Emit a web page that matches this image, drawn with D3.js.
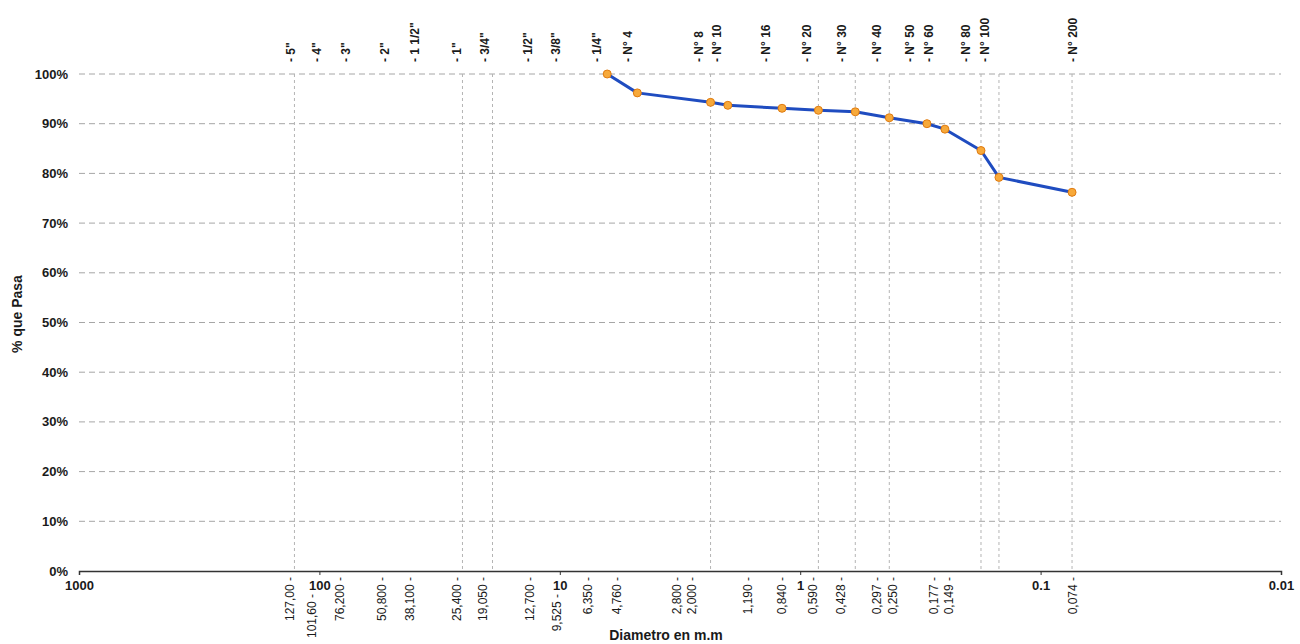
<!DOCTYPE html>
<html>
<head>
<meta charset="utf-8">
<script src="https://cdn.jsdelivr.net/npm/d3@7"></script>
<style>
    body { margin: 0; background: #fff; }
    svg { font-family: Arial, "Liberation Sans", sans-serif; }
</style>
</head>
<body>
<svg id="canvas"></svg>
<script>
// sieves shown along the top of the chart, and where their names sit (mm)
const sieveNames = ['5"', '4"', '3"', '2"', '1 1/2"', '1"', '3/4"', '1/2"', '3/8"', '1/4"',
        'N° 4', 'N° 8', 'N° 10', 'N° 16', 'N° 20', 'N° 30', 'N° 40', 'N° 50', 'N° 60', 'N° 80', 'N° 100', 'N° 200'],
    sieveLabelAt = [131, 102.3, 77.5, 53.4, 40.0, 26.8, 20.5, 13.6, 10.4, 7.0,
        5.2, 2.64, 2.22, 1.39, 0.937, 0.67, 0.48, 0.349, 0.291, 0.204, 0.170, 0.0733];

// opening labels under the axis and where they sit (mm)
const openingLabels = ['127,00', '101,60', '76,200', '50,800', '38,100', '25,400', '19,050', '12,700', '9,525', '6,350',
        '4,760', '2,800', '2,000', '1,190', '0,840', '0,590', '0,428', '0,297', '0,250', '0,177', '0,149', '0,074'],
    openingLabelAt = [133, 108, 82.6, 55.2, 42.2, 26.9, 20.9, 13.3, 10.3, 7.64,
        5.79, 3.26, 2.82, 1.65, 1.19, 0.89, 0.68, 0.478, 0.41, 0.279, 0.242, 0.0736];

// tested sieves and % passing
const testSizes = [6.35, 4.76, 2.36, 2.0, 1.19, 0.84, 0.59, 0.426, 0.297, 0.25, 0.177, 0.149, 0.074],
    percentPassing = [100, 96.2, 94.3, 93.7, 93.1, 92.7, 92.4, 91.2, 90.0, 88.9, 84.6, 79.2, 76.2];

// sieves that got a vertical grid line
const gridSizes = [127, 25.4, 19.05, 2.36, 0.84, 0.59, 0.426, 0.177, 0.149, 0.074];

const decadeTicks = [1000, 100, 10, 1, 0.1, 0.01],
    percentTicks = d3.range(0, 101, 10);

const width = 1300, height = 644;

const svgCanvas = d3.select('svg#canvas')
    .attr('width', width)
    .attr('height', height);

const x = d3.scaleLog().domain([1000, 0.01]).range([79, 1281]),
    y = d3.scaleLinear().domain([0, 100]).range([571, 74]);

// horizontal grid
svgCanvas.append('g')
    .selectAll('line')
    .data(percentTicks.filter(d => d > 0))
    .join('line')
    .attr('x1', x.range()[0]).attr('x2', x.range()[1])
    .attr('y1', d => y(d)).attr('y2', d => y(d))
    .attr('stroke', '#a6a6a6')
    .attr('stroke-width', 1)
    .attr('stroke-dasharray', '6,4');

// vertical grid
svgCanvas.append('g')
    .selectAll('line')
    .data(gridSizes)
    .join('line')
    .attr('x1', d => x(d)).attr('x2', d => x(d))
    .attr('y1', y(100)).attr('y2', y(0))
    .attr('stroke', '#b4b4b4')
    .attr('stroke-width', 1)
    .attr('stroke-dasharray', '3,3');

// y axis labels
svgCanvas.append('g')
    .selectAll('text')
    .data(percentTicks)
    .join('text')
    .attr('x', 68)
    .attr('y', d => y(d))
    .attr('dy', '0.35em')
    .attr('text-anchor', 'end')
    .attr('font-size', 13)
    .attr('font-weight', 'bold')
    .attr('fill', '#1a1a1a')
    .text(d => d + '%');

// x axis (log, reversed)
const xAxis = svgCanvas.append('g')
    .attr('transform', `translate(0,${y(0)})`)
    .call(d3.axisBottom(x).tickValues(decadeTicks).tickSize(4).tickFormat(d => String(d)));

xAxis.select('.domain').attr('stroke', '#333').attr('stroke-width', 1.5);
xAxis.selectAll('.tick line').attr('stroke', '#333');
xAxis.selectAll('.tick text')
    .attr('font-size', 13)
    .attr('font-weight', 'bold')
    .attr('fill', '#1a1a1a')
    .attr('dy', '0.9em');

// sieve names on top
svgCanvas.append('g')
    .selectAll('text')
    .data(sieveLabelAt)
    .join('text')
    .attr('transform', d => `translate(${x(d)},62) rotate(-90)`)
    .attr('dy', '0.35em')
    .attr('text-anchor', 'start')
    .attr('font-size', 12)
    .attr('font-weight', 'bold')
    .attr('fill', '#1a1a1a')
    .text((d, i) => '- ' + sieveNames[i]);

// opening sizes below the axis
svgCanvas.append('g')
    .selectAll('text')
    .data(openingLabelAt)
    .join('text')
    .attr('transform', d => {
        const px = x(d),
            crowded = decadeTicks.some(t => Math.abs(x(t) - px) < 12);
        return `translate(${px},${crowded ? 594 : 577}) rotate(-90)`;
    })
    .attr('dy', '0.35em')
    .attr('text-anchor', 'end')
    .attr('font-size', 12)
    .attr('fill', '#1a1a1a')
    .text((d, i) => openingLabels[i] + ' -');

// axis titles
svgCanvas.append('text')
    .attr('transform', `translate(17,314) rotate(-90)`)
    .attr('dy', '0.35em')
    .attr('text-anchor', 'middle')
    .attr('font-size', 14)
    .attr('font-weight', 'bold')
    .attr('fill', '#1a1a1a')
    .text('% que Pasa');

svgCanvas.append('text')
    .attr('x', 666)
    .attr('y', 640)
    .attr('text-anchor', 'middle')
    .attr('font-size', 14)
    .attr('font-weight', 'bold')
    .attr('fill', '#1a1a1a')
    .text('Diametro en m.m');

// grading curve
const points = testSizes.map((d, i) => ({ size: d, pass: percentPassing[i] }));

svgCanvas.append('path')
    .datum(points)
    .attr('fill', 'none')
    .attr('stroke', '#1f4cc0')
    .attr('stroke-width', 3)
    .attr('stroke-linejoin', 'round')
    .attr('d', d3.line().x(d => x(d.size)).y(d => y(d.pass)));

svgCanvas.append('g')
    .selectAll('circle')
    .data(points)
    .join('circle')
    .attr('cx', d => x(d.size))
    .attr('cy', d => y(d.pass))
    .attr('r', 4)
    .attr('fill', '#f7a93a')
    .attr('stroke', '#e07b10')
    .attr('stroke-width', 1);
</script>
</body>
</html>
